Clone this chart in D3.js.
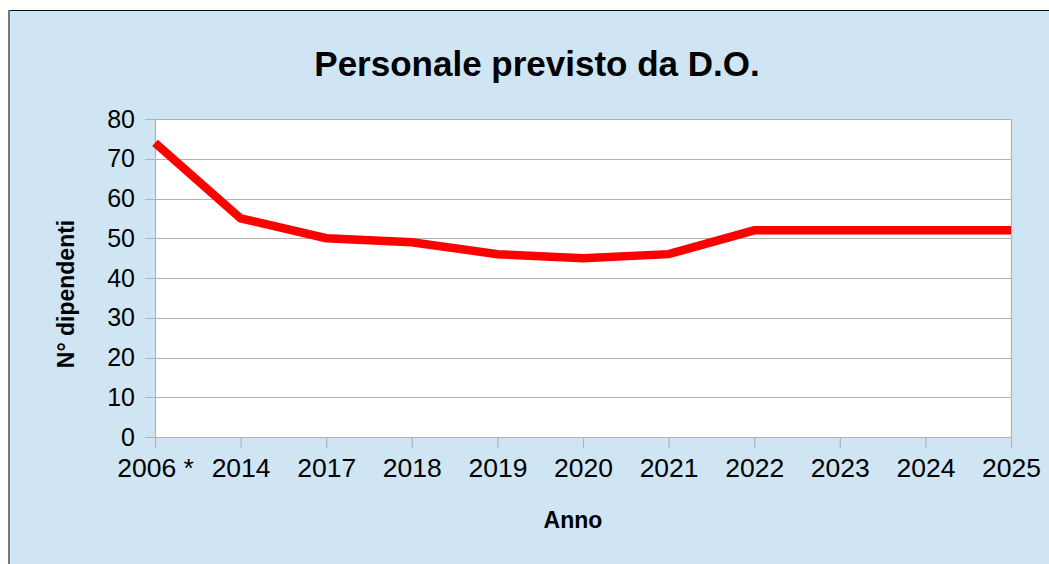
<!DOCTYPE html>
<html>
<head>
<meta charset="utf-8">
<script src="https://cdn.jsdelivr.net/npm/d3@7"></script>
<style>
  body { margin: 0; background: #fff; }
  svg { display: block; font-family: "Liberation Sans", Arial, sans-serif; }
</style>
</head>
<body>
<script>
// dati del grafico
const anni = ["2006 *", "2014", "2017", "2018", "2019", "2020", "2021", "2022", "2023", "2024", "2025"];
const dipendenti = [74, 55, 50, 49, 46, 45, 46, 52, 52, 52, 52];
const yTicks = [0, 10, 20, 30, 40, 50, 60, 70, 80];

const W = 1049, H = 564;
const plot = { left: 155, right: 1011, top: 119, bottom: 437 };

const svg = d3.select("body").append("svg")
  .attr("width", W)
  .attr("height", H);

// sfondo azzurro + bordo
svg.append("rect")
  .attr("x", 9).attr("y", 10)
  .attr("width", W - 9).attr("height", H - 10)
  .attr("fill", "#cfe5f3");
svg.append("line")
  .attr("x1", 9).attr("x2", W).attr("y1", 10.5).attr("y2", 10.5)
  .attr("stroke", "#111").attr("stroke-width", 1);
svg.append("line")
  .attr("x1", 9).attr("x2", 9).attr("y1", 10).attr("y2", H)
  .attr("stroke", "#777").attr("stroke-width", 2);

const x = d3.scalePoint()
  .domain(anni)
  .range([plot.left, plot.right]);

const y = d3.scaleLinear()
  .domain([0, 80])
  .range([plot.bottom, plot.top]);

// area del grafico
svg.append("rect")
  .attr("x", plot.left).attr("y", plot.top)
  .attr("width", plot.right - plot.left)
  .attr("height", plot.bottom - plot.top)
  .attr("fill", "#fff");

// griglia
svg.append("g")
  .selectAll("line")
  .data(yTicks)
  .enter()
  .append("line")
  .attr("x1", plot.left - 10)
  .attr("x2", plot.right)
  .attr("y1", d => Math.round(y(d)) + 0.5)
  .attr("y2", d => Math.round(y(d)) + 0.5)
  .attr("stroke", "#b3b3b3")
  .attr("stroke-width", 1.2);

// bordi verticali area
svg.append("line")
  .attr("x1", plot.left + 0.5).attr("x2", plot.left + 0.5)
  .attr("y1", plot.top).attr("y2", plot.bottom)
  .attr("stroke", "#b3b3b3").attr("stroke-width", 1.2);
svg.append("line")
  .attr("x1", plot.right + 0.5).attr("x2", plot.right + 0.5)
  .attr("y1", plot.top).attr("y2", plot.bottom)
  .attr("stroke", "#b3b3b3").attr("stroke-width", 1.2);

// asse y
const yAxis = svg.append("g")
  .attr("transform", `translate(${plot.left - 10},0)`)
  .call(d3.axisLeft(y).tickValues(yTicks).tickSize(0).tickPadding(10));
yAxis.select(".domain").remove();
yAxis.selectAll("text")
  .attr("font-size", 25)
  .attr("font-family", "Liberation Sans, Arial, sans-serif")
  .attr("fill", "#000");

// asse x
const xAxis = svg.append("g")
  .attr("transform", `translate(0,${plot.bottom})`)
  .call(d3.axisBottom(x).tickSize(11).tickPadding(10));
xAxis.select(".domain").remove();
xAxis.selectAll(".tick line")
  .attr("stroke", "#b3b3b3").attr("stroke-width", 1.2);
xAxis.selectAll("text")
  .attr("font-size", 26.5)
  .attr("font-family", "Liberation Sans, Arial, sans-serif")
  .attr("fill", "#000");

// linea
const line = d3.line()
  .x((d, i) => x(anni[i]))
  .y(d => y(d));

svg.append("path")
  .datum(dipendenti)
  .attr("d", line)
  .attr("fill", "none")
  .attr("stroke", "#ff0000")
  .attr("stroke-width", 8.5)
  .attr("stroke-linejoin", "miter");

// titoli
svg.append("text")
  .attr("x", 537).attr("y", 76)
  .attr("text-anchor", "middle")
  .attr("font-size", 35)
  .attr("font-weight", "bold")
  .text("Personale previsto da D.O.");

svg.append("text")
  .attr("x", 573).attr("y", 528)
  .attr("text-anchor", "middle")
  .attr("font-size", 23)
  .attr("font-weight", "bold")
  .text("Anno");

svg.append("text")
  .attr("transform", "translate(74,294) rotate(-90)")
  .attr("text-anchor", "middle")
  .attr("font-size", 23)
  .attr("font-weight", "bold")
  .text("N° dipendenti");
</script>
</body>
</html>
